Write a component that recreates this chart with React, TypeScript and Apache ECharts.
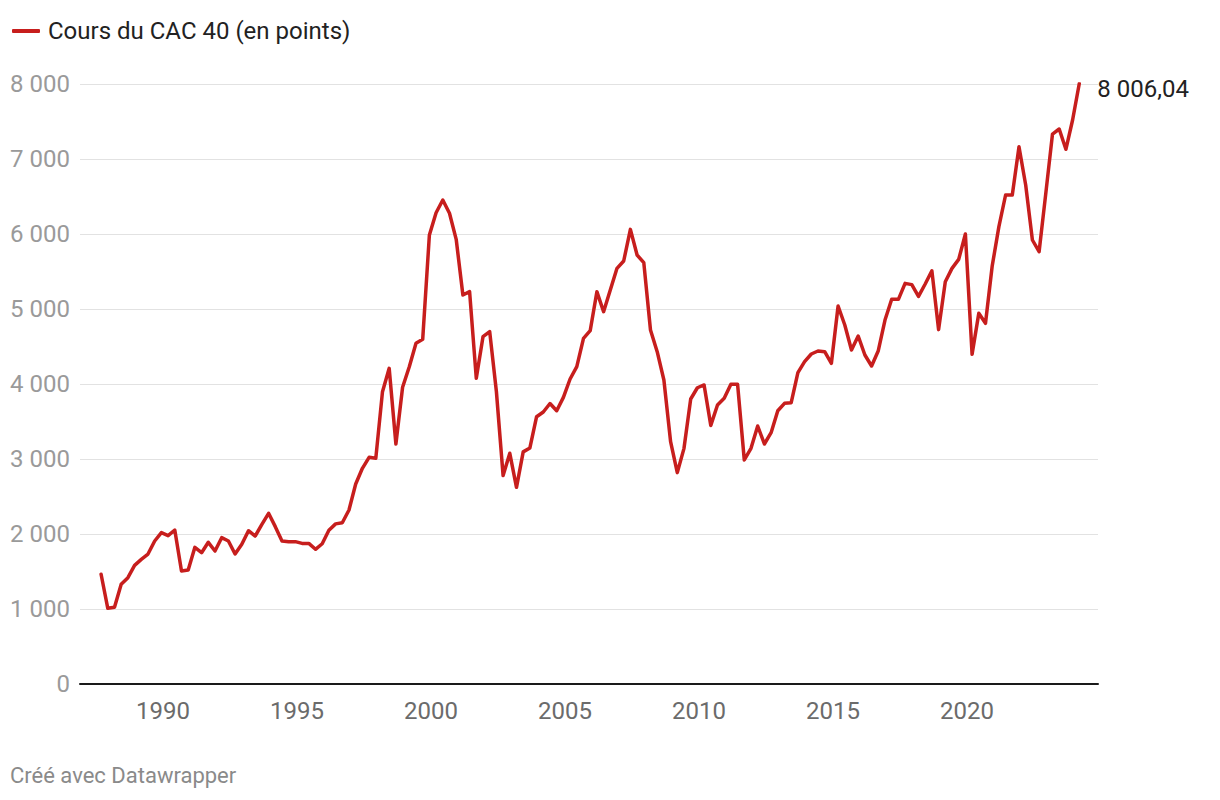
import React, { useEffect, useRef } from "react";
import * as echarts from "echarts";

// Quarterly closing points of the CAC 40, first quarter point ~ Sept 1987
const FIRST_QUARTER = 1987.69;
const QUARTER_STEP = 0.25;

const cacValues: number[] = [
  1463, 1009, 1023, 1329, 1418, 1582, 1662, 1733, 1907, 2018,
  1978, 2053, 1507, 1520, 1822, 1751, 1889, 1773, 1951, 1907,
  1733, 1862, 2044, 1973, 2129, 2276, 2098, 1907, 1898, 1898,
  1875, 1875, 1796, 1870, 2050, 2135, 2150, 2320, 2667, 2876,
  3022, 3009, 3898, 4209, 3200, 3956, 4231, 4542, 4596, 5987,
  6284, 6453, 6276, 5929, 5187, 5231, 4076, 4631, 4698, 3900,
  2780, 3076, 2622, 3095, 3147, 3564, 3627, 3740, 3644, 3822,
  4067, 4231, 4609, 4711, 5231, 4964, 5253, 5542, 5640, 6062,
  5720, 5618, 4720, 4431, 4053, 3231, 2818, 3142, 3800, 3950,
  3987, 3448, 3720, 3809, 3998, 3996, 2987, 3142, 3440, 3200,
  3351, 3644, 3742, 3751, 4151, 4298, 4400, 4440, 4431, 4276,
  5040, 4787, 4453, 4640, 4387, 4240, 4444, 4853, 5129, 5129,
  5342, 5325, 5168, 5333, 5509, 4725, 5364, 5542, 5662, 6000,
  4396, 4942, 4809, 5573, 6098, 6520, 6520, 7164, 6653, 5920,
  5764, 6542, 7333, 7400, 7129, 7520, 8006.04,
];

const yearTicks: number[] = [1990, 1995, 2000, 2005, 2010, 2015, 2020];
const seriesName = "Cours du CAC 40 (en points)";
const lastLabel = "8 006,04";
const footerText = "Créé avec Datawrapper";

const RED = "#c71e1d";
const FONT = "Roboto, 'Noto Sans', sans-serif";

function fmtThousands(v: number): string {
  return String(Math.round(v)).replace(/\B(?=(\d{3})+(?!\d))/g, " ");
}

export default function App() {
  const ref = useRef<HTMLDivElement | null>(null);

  useEffect(() => {
    document.body.style.margin = "0";
    if (!ref.current) return;
    const chart = echarts.init(ref.current, undefined, { renderer: "svg" });

    const data = cacValues.map((v, i) => [FIRST_QUARTER + i * QUARTER_STEP, v]);

    chart.setOption({
      animation: false,
      textStyle: { fontFamily: FONT },
      legend: {
        show: true,
        left: 12,
        top: 19,
        padding: 0,
        icon: "roundRect",
        itemWidth: 28,
        itemHeight: 4,
        itemGap: 10,
        itemStyle: { color: RED },
        textStyle: {
          fontSize: 24,
          color: "#222222",
          fontFamily: FONT,
          padding: [0, 0, 0, 3],
        },
        data: [seriesName],
        selectedMode: false,
      },
      grid: {
        left: 80,
        right: 122,
        top: 84,
        bottom: 116,
        containLabel: false,
      },
      xAxis: {
        type: "value",
        min: 1986.903,
        max: 2024.888,
        axisLine: { show: true, lineStyle: { color: "#1a1a1a", width: 2 } },
        axisTick: { show: false },
        splitLine: { show: false },
        axisLabel: {
          customValues: yearTicks,
          formatter: (v: number) => String(v),
          color: "#6b6b6b",
          fontSize: 24,
          fontFamily: FONT,
          margin: 15,
        },
      },
      yAxis: {
        type: "value",
        min: 0,
        max: 8000,
        interval: 1000,
        axisLine: { show: false },
        axisTick: { show: false },
        splitLine: { show: true, lineStyle: { color: "#e2e2e2", width: 1 } },
        axisLabel: {
          formatter: (v: number) => fmtThousands(v),
          color: "#9a9a9a",
          fontSize: 24,
          fontFamily: FONT,
          margin: 10,
        },
      },
      series: [
        {
          name: seriesName,
          type: "line",
          data,
          showSymbol: false,
          symbol: "none",
          color: RED,
          lineStyle: { color: RED, width: 3.5, join: "round", cap: "round" },
          emphasis: { disabled: true },
          endLabel: {
            show: true,
            formatter: lastLabel,
            distance: 18,
            offset: [0, 5],
            fontSize: 24,
            fontFamily: FONT,
            color: "#222222",
          },
        },
      ],
      graphic: [
        {
          type: "text",
          left: 10,
          top: 764,
          style: {
            text: footerText,
            fontSize: 22,
            fontFamily: FONT,
            fill: "#8a8a8a",
          },
        },
      ],
    });

    return () => {
      chart.dispose();
    };
  }, []);

  return <div ref={ref} style={{ width: 1220, height: 800 }} />;
}
